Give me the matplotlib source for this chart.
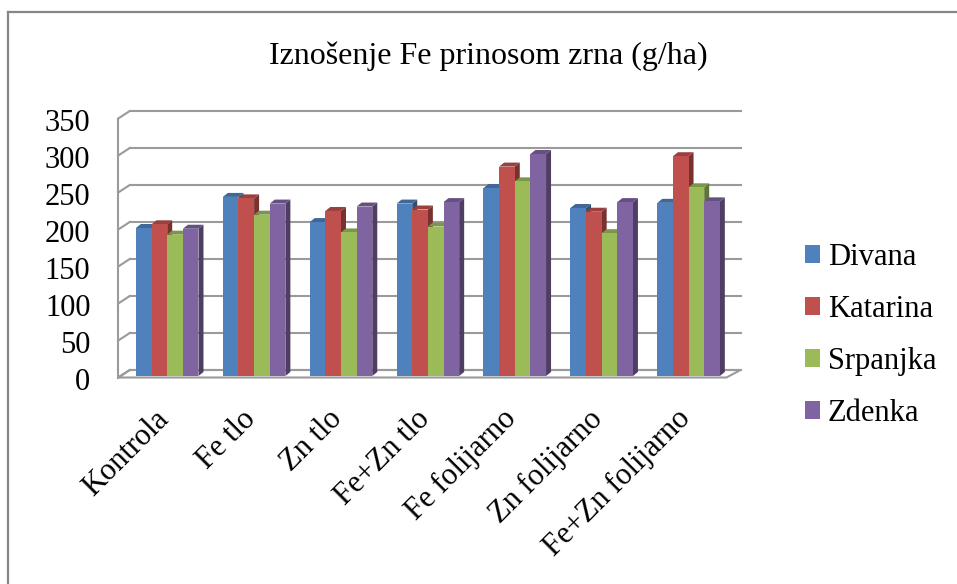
import matplotlib
matplotlib.use("Agg")
import matplotlib.pyplot as plt
import matplotlib.transforms as mtransforms
from matplotlib.patches import Polygon, Patch
from matplotlib.lines import Line2D
import numpy as np

# data
categories = ["Kontrola", "Fe tlo", "Zn tlo", "Fe+Zn tlo",
              "Fe folijarno", "Zn folijarno", "Fe+Zn folijarno"]
series = ["Divana", "Katarina", "Srpanjka", "Zdenka"]
divana = [200, 242, 208, 233, 254, 227, 234]
katarina = [205, 240, 223, 225, 283, 222, 297]
srpanjka = [191, 218, 194, 202, 263, 193, 255]
zdenka = [199, 233, 229, 235, 300, 235, 236]
yticks = [0, 50, 100, 150, 200, 250, 300, 350]

values = [divana, katarina, srpanjka, zdenka]
colors = ["#4F81BD", "#C0504D", "#9BBB59", "#8064A2"]

plt.rcParams['font.family'] = ['Liberation Serif', 'DejaVu Serif']
FS = 22

W, H = 957, 584
fig = plt.figure(figsize=(W / 100, H / 100), dpi=100)

# axes = front plane of the bars (pixel layout of the reference)
ax_l, ax_r = 123.75, 732.0
ax_top, ax_bot = 117.0, 376.0
ax = fig.add_axes([ax_l / W, 1 - ax_bot / H, (ax_r - ax_l) / W, (ax_bot - ax_top) / H])
ax.set_xlim(-0.5, len(categories) - 0.5)
ax.set_ylim(0, 350)
ax.set_frame_on(False)

# data units per pixel, to fake the 3d depth
ux = len(categories) / (ax_r - ax_l)
uy = 350 / (ax_bot - ax_top)

grid_col = "#9A9A9A"


def seg(x0, y0, x1, y1, **kw):
    ax.add_line(Line2D([x0, x1], [y0, y1], color=grid_col, lw=1.5,
                       clip_on=False, zorder=1, **kw))


xl, xr = -0.5, len(categories) - 0.5
# floor
fx0, fy0 = -5.5 * ux, -1.5 * uy     # front offset
bx0, by0 = 6.0 * ux, 6.0 * uy       # back offset
floor = Polygon([[xl + fx0, fy0], [xr + fx0, fy0], [xr + 8.5 * ux, by0], [xl + bx0, by0]],
                closed=True, facecolor="white", edgecolor=grid_col, lw=1.5,
                clip_on=False, zorder=1)
ax.add_patch(floor)
# back wall gridlines and left wall
for t in yticks:
    seg(xl + bx0, t + by0, xr + 9 * ux, t + by0)
    seg(xl + fx0, t + fy0, xl + bx0, t + by0)
seg(xl + fx0, fy0, xl + fx0, 350 + fy0)

# bars with side and top faces
bw = 0.18
dx, dy = 5 * ux, 4 * uy
for gi in range(len(categories)):
    for si in range(len(series)):
        v = values[si][gi]
        x0 = gi + (si - 2) * bw
        x1 = x0 + bw
        c = np.array(matplotlib.colors.to_rgb(colors[si]))
        z = 3 + gi * 10 + si
        side = Polygon([[x1, 0], [x1 + dx, dy], [x1 + dx, v + dy], [x1, v]],
                       facecolor=c * 0.62, edgecolor="none", clip_on=False, zorder=z)
        top = Polygon([[x0, v], [x1, v], [x1 + dx, v + dy], [x0 + dx, v + dy]],
                      facecolor=c * 0.8, edgecolor="none", clip_on=False, zorder=z)
        ax.add_patch(side)
        ax.add_patch(top)
        ax.bar(x0, v, width=bw, align="edge", color=colors[si], lw=0,
               zorder=z + 0.5, clip_on=False)

# ticks
ax.set_yticks(yticks)
ax.set_yticklabels([str(t) for t in yticks], fontsize=FS)
ax.tick_params(axis="y", length=0, pad=24)
ax.set_xticks(range(len(categories)))
ax.set_xticklabels(categories, fontsize=FS, rotation=45, ha="right",
                   rotation_mode="anchor")
ax.tick_params(axis="x", length=0, pad=24)
for lab in ax.get_yticklabels():
    lab.set_transform(lab.get_transform() + mtransforms.ScaledTranslation(0, -0.03, fig.dpi_scale_trans))
for lab in ax.get_xticklabels():
    lab.set_transform(lab.get_transform() + mtransforms.ScaledTranslation(-0.13, 0.05, fig.dpi_scale_trans))

# title
fig.text(488 / W, 1 - 56 / H, "Iznošenje Fe prinosom zrna (g/ha)", fontsize=23,
         ha="center", va="center")

# legend
handles = [Patch(facecolor=c, edgecolor="none") for c in colors]
fig.legend(handles, series, loc="upper left", bbox_to_anchor=(805 / W, 1 - 243 / H),
           frameon=False, fontsize=FS, handlelength=0.5, handleheight=0.5,
           handletextpad=0.25, labelspacing=0.75, borderpad=0, borderaxespad=0)

# chart border (only top and left visible in the crop)
fig.add_artist(Line2D([8 / W, 8 / W], [0, 1 - 12 / H], color="#868686", lw=1.6,
                      transform=fig.transFigure))
fig.add_artist(Line2D([8 / W, 1], [1 - 12 / H, 1 - 12 / H], color="#868686", lw=1.6,
                      transform=fig.transFigure))

fig.savefig("out.png", dpi=100)
